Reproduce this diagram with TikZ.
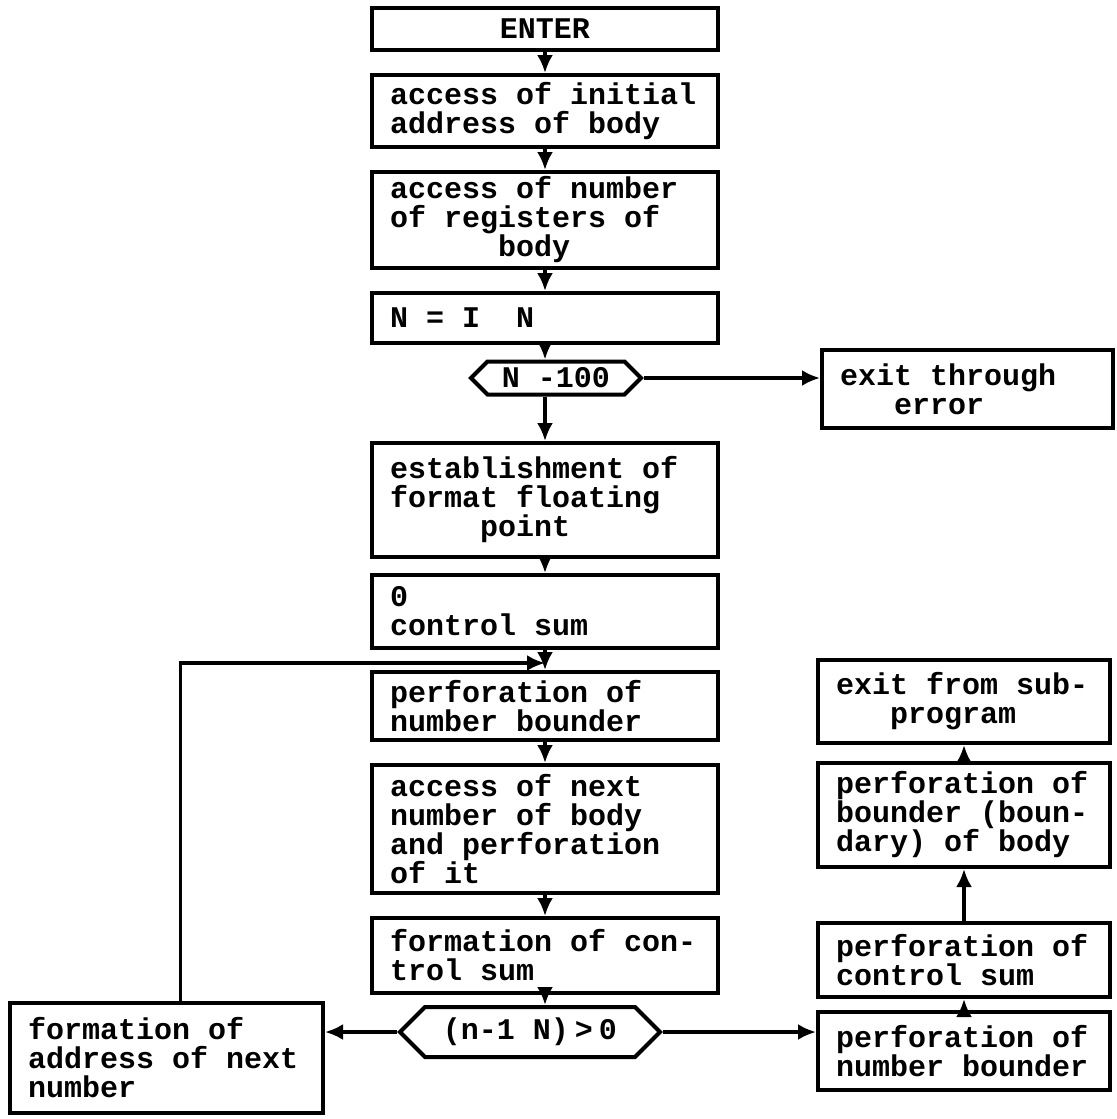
\documentclass[tikz,border=0pt]{standalone}
\usepackage{fontspec}
\setmonofont{Liberation Mono}
\usetikzlibrary{arrows.meta,shapes.symbols}

% typewriter face, every space one character wide
\newcommand{\typeface}{\ttfamily\bfseries\fontsize{15}{14.5}\selectfont
  \spaceskip=9pt\xspaceskip=9pt\relax}

\tikzset{
  blk/.style={draw, line width=2pt, inner xsep=9pt, inner ysep=0pt, align=flush left,
    font=\typeface},
  mainblk/.style={blk, text width=155pt},
  sideblk/.style={blk, text width=128pt},
  test/.style={draw, line width=2pt, shape=signal, signal to=west and east,
    signal pointer angle=90, inner xsep=4pt, inner ysep=0pt, font=\typeface},
  flow/.style={line width=1.7pt, -{Latex[length=9pt,width=8pt]}},
}

\begin{document}
\begin{tikzpicture}[x=0.5pt,y=-0.5pt]
\useasboundingbox (0,0) rectangle (1116,1119);

% main column
\node[mainblk, align=flush center, minimum height=21pt] (enter) at (545,29) {ENTER};
\node[mainblk, minimum height=36pt] (initaddr) at (545,111) {access of initial\\address of body};
\node[mainblk, minimum height=48pt] (regs) at (545,220) {access of number\\of registers of\\~~~~~~body};
\node[mainblk, minimum height=25pt] (setn) at (545,318) {N = I~~N};
\node[test, minimum width=85pt, minimum height=16.5pt] (hex1) at (556,378) {N -100};
\node[blk, text width=127.5pt, minimum height=39pt] (errbox) at (967.5,389) {exit through\\~~~error};
\node[mainblk, minimum height=57pt] (format) at (545,500) {establishment of\\format floating\\~~~~~point};
\node[mainblk, minimum height=36.5pt] (zero) at (545,611.5) {0\\control sum};
\coordinate (join) at (545,663);
\node[mainblk, minimum height=34pt] (perfnum) at (545,706) {perforation of\\number bounder};
\node[mainblk, minimum height=64pt] (nextnum) at (545,829) {access of next\\number of body\\and perforation\\of it};
\node[mainblk, minimum height=37.5pt] (formsum) at (545,955.5) {formation of con-\\trol sum};
\node[test, minimum width=130pt, minimum height=25pt] (hex2) at (530,1032) {(n-1 N)\hspace{3pt}>\hspace{3pt}0};

% loop box
\node[blk, text width=138.5pt, minimum height=55pt] (nextaddr) at (166.5,1058) {formation of\\address of next\\number};

% right column
\node[sideblk, minimum height=41.5pt] (exitsub) at (964,701.5) {exit from sub-\\~~~program};
\node[sideblk, minimum height=52pt] (perfbound) at (964,815) {perforation of\\bounder (boun-\\dary) of body};
\node[sideblk, minimum height=37pt] (perfsum) at (964,960) {perforation of\\control sum};
\node[sideblk, minimum height=39pt] (perfnb) at (964,1051) {perforation of\\number bounder};

% connectors
\draw[flow] (enter) -- (initaddr);
\draw[flow] (initaddr) -- (regs);
\draw[flow] (regs) -- (setn);
\draw[flow] (setn.south) -- (setn.south |- hex1.north);
\draw[flow] (hex1.east) -- (hex1.east -| errbox.west);
\draw[flow] (format.north |- hex1.south) -- (format.north);
\draw[flow] (format) -- (zero);
\draw[flow] (zero) -- (perfnum);
\draw[flow] ([xshift=7pt]nextaddr.north) |- (join);
\draw[flow] (perfnum) -- (nextnum);
\draw[flow] (nextnum) -- (formsum);
\draw[flow] (formsum.south) -- (formsum.south |- hex2.north);
\draw[flow] (hex2.west) -- (hex2.west -| nextaddr.east);
\draw[flow] (hex2.east) -- (hex2.east -| perfnb.west);
\draw[flow] (perfnb) -- (perfsum);
\draw[flow] (perfsum) -- (perfbound);
\draw[flow] (perfbound) -- (exitsub);

\end{tikzpicture}
\end{document}
